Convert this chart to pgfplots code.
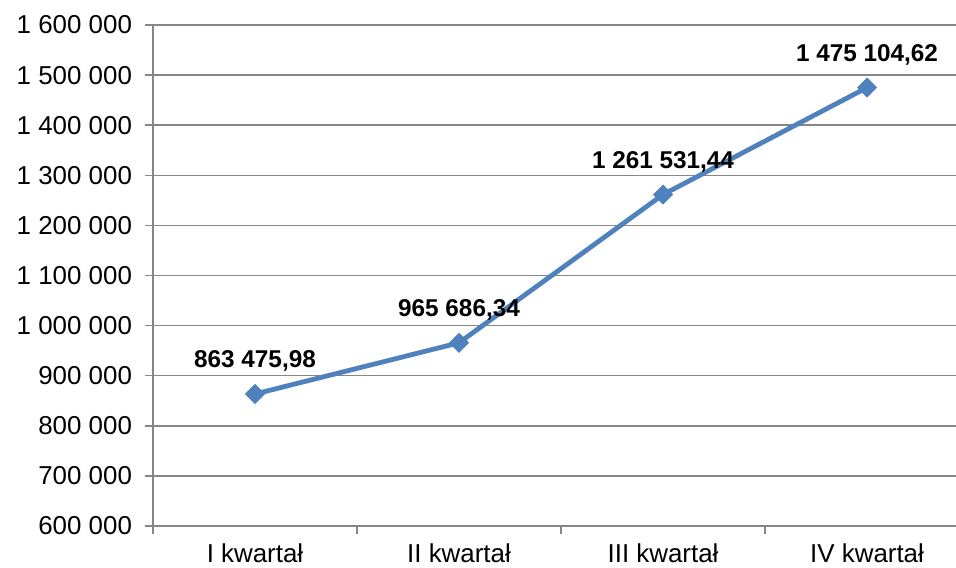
\documentclass[border=0pt]{standalone}
\usepackage{fontspec}
\setmainfont{Liberation Sans}
\usepackage{pgfplots}
\pgfplotsset{compat=1.18}
\definecolor{exblue}{HTML}{4F81BD}
\definecolor{exgrid}{HTML}{868686}
\begin{document}
\begin{tikzpicture}[x=1bp,y=1bp]
\begin{axis}[
  at={(0,0)}, anchor=origin,
  scale only axis,
  width=401.5bp, height=250.5bp,
  xmin=0.5, xmax=4.436,
  ymin=600000, ymax=1600000,
  axis x line*=bottom, axis y line*=left,
  axis line style={exgrid, line width=0.75bp},
  ytick={600000,700000,...,1600000},
  yticklabels={600 000,700 000,800 000,900 000,1 000 000,1 100 000,1 200 000,1 300 000,1 400 000,1 500 000,1 600 000},
  scaled y ticks=false,
  ymajorgrids,
  grid style={exgrid, line width=0.75bp},
  xtick={1,2,3,4},
  xticklabels={I kwartał,II kwartał,III kwartał,IV kwartał},
  major x tick style={draw=none},
  minor xtick={0.5,1.5,2.5,3.5},
  minor x tick style={exgrid, line width=0.75bp},
  minor tick length=4bp,
  major tick length=4bp,
  tick align=outside,
  y tick style={exgrid, line width=0.75bp},
  tick label style={font=\fontsize{13}{15}\selectfont, text=black},
  yticklabel style={xshift=-3bp},
  xticklabel style={yshift=-1.5bp},
  clip=false,
  point meta=explicit symbolic,
  nodes near coords={\pgfplotspointmeta},
  nodes near coords style={font=\bfseries\fontsize{12.2}{14}\selectfont, text=black, anchor=base, yshift=13bp},
]
\addplot[color=exblue, line width=2.4bp, mark=square*, mark size=3.3bp, mark options={fill=exblue, draw=exblue, line width=0.5bp, rotate=45}]
coordinates {
  (1,863475.98) [863 475,98]
  (2,965686.34) [965 686,34]
  (3,1261531.44) [1 261 531,44]
  (4,1475104.62) [1 475 104,62]
};
\end{axis}
\pgfresetboundingbox
\path[use as bounding box] (-76.5bp,-21bp) rectangle (401.5bp,263bp);
\end{tikzpicture}
\end{document}
